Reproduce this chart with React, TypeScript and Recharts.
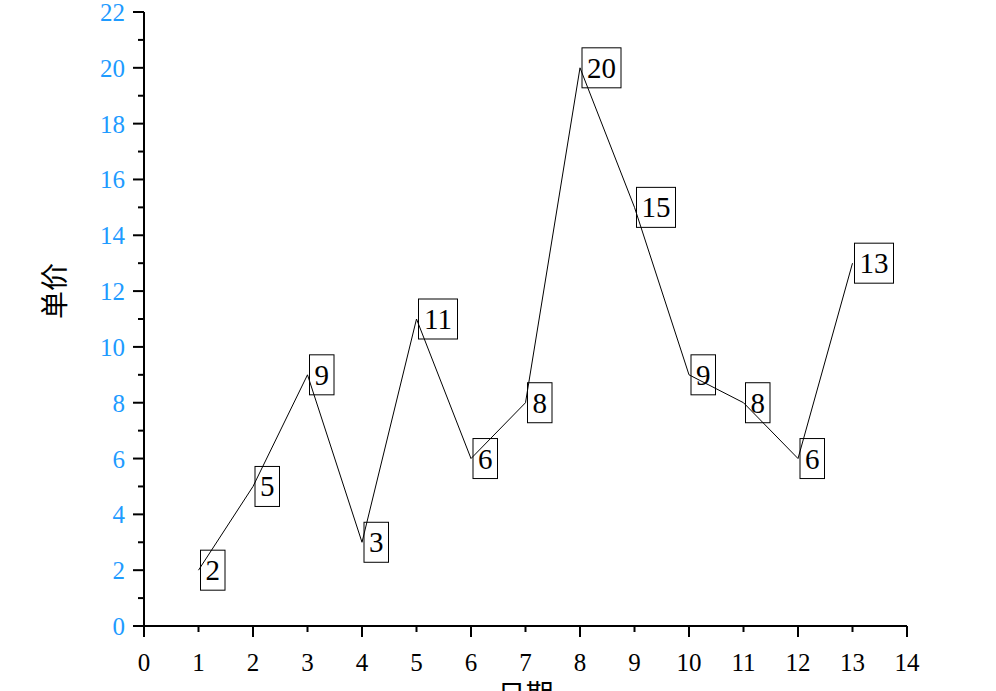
import { LineChart, Line, XAxis, YAxis, LabelList } from 'recharts';

// Daily unit price
const days = [1, 2, 3, 4, 5, 6, 7, 8, 9, 10, 11, 12, 13];
const prices = [2, 5, 9, 3, 11, 6, 8, 20, 15, 9, 8, 6, 13];

const xTicks = [0, 1, 2, 3, 4, 5, 6, 7, 8, 9, 10, 11, 12, 13, 14];
const yTicks = [0, 1, 2, 3, 4, 5, 6, 7, 8, 9, 10, 11, 12, 13, 14, 15, 16, 17, 18, 19, 20, 21, 22];

const data = days.map((d, i) => ({ day: d, price: prices[i] }));

const SERIF = '"Liberation Serif", "DejaVu Serif", serif';
const CJK = '"Noto Sans CJK SC", sans-serif';
const TICK_BLUE = '#1e9bff';

function YTick({ x, y, payload }: any) {
  const major = payload.value % 2 === 0;
  const ax = x + 8; // axis line position
  return (
    <g>
      <line x1={ax - (major ? 11 : 6)} x2={ax} y1={y} y2={y} stroke="#000" strokeWidth={2} />
      {major && (
        <text x={ax - 19} y={y + 9} textAnchor="end" style={{ fontSize: 25, fontFamily: SERIF }} fill={TICK_BLUE}>
          {payload.value}
        </text>
      )}
    </g>
  );
}

function XTick({ x, y, payload }: any) {
  const major = payload.value % 2 === 0;
  const ay = y - 8;
  return (
    <g>
      <line x1={x} x2={x} y1={ay} y2={ay + (major ? 11 : 6)} stroke="#000" strokeWidth={2} />
      <text x={x} y={ay + 45} textAnchor="middle" style={{ fontSize: 25, fontFamily: SERIF }} fill="#000">
        {payload.value}
      </text>
    </g>
  );
}

function BoxLabel({ x, y, value }: any) {
  const s = String(value);
  const w = 10 + s.length * 14.5;
  return (
    <g>
      <rect x={x + 2} y={y - 20} width={w} height={40} fill="none" stroke="#000" strokeWidth={1} />
      <text x={x + 2 + w / 2} y={y + 10} textAnchor="middle" style={{ fontSize: 29, fontFamily: SERIF }} fill="#000">
        {s}
      </text>
    </g>
  );
}

export default function App() {
  return (
    <div style={{ position: 'absolute', left: 0, top: 0, width: 996, height: 691, background: '#fff' }}>
      <LineChart width={996} height={691} data={data} margin={{ top: 12, right: 89, left: 0, bottom: 0 }}>
        <XAxis
          type="number"
          dataKey="day"
          domain={[0, 14]}
          ticks={xTicks}
          interval={0}
          height={65}
          axisLine={{ stroke: '#000', strokeWidth: 2 }}
          tickLine={false}
          tick={<XTick />}
          label={{ value: '日期', position: 'insideBottom', offset: -14, fontSize: 28, fontFamily: CJK, fill: '#000' }}
        />
        <YAxis
          type="number"
          domain={[0, 22]}
          ticks={yTicks}
          interval={0}
          width={144}
          axisLine={{ stroke: '#000', strokeWidth: 2 }}
          tickLine={false}
          tick={<YTick />}
          label={{ value: '单价', angle: -90, position: 'insideLeft', offset: 55, fontSize: 28, fontFamily: CJK, fill: '#000' }}
        />
        <Line
          type="linear"
          dataKey="price"
          stroke="#000"
          strokeWidth={1}
          dot={false}
          activeDot={false}
          isAnimationActive={false}
        >
          <LabelList dataKey="price" content={<BoxLabel />} />
        </Line>
      </LineChart>
    </div>
  );
}
